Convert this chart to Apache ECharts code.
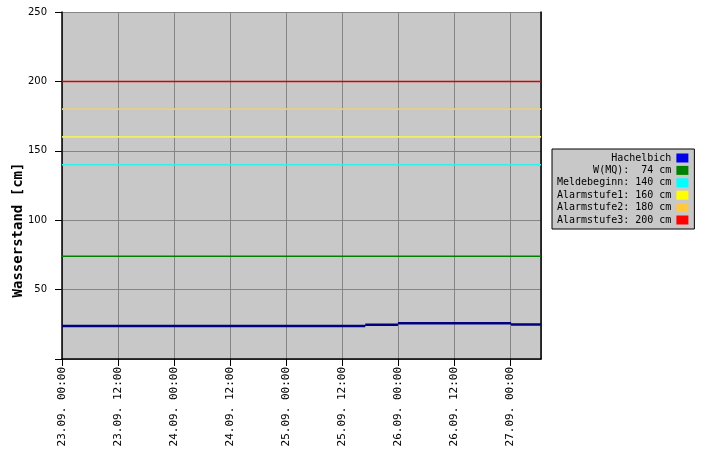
<!DOCTYPE html>
<html><head><meta charset="utf-8">
<script src="https://cdn.jsdelivr.net/npm/echarts@6/dist/echarts.min.js"></script>
<style>html,body{margin:0;padding:0;background:#fff}#c{width:727px;height:457px}</style>
</head><body><div id="c"></div>
<script>
// ---- data ----
var axisStart = '2023-09-23 00:00';
var axisEnd = '2023-09-27 06:40';
// water level: constant steps (start time, end time, level in cm)
var stepStarts = ['2023-09-23 00:00', '2023-09-25 17:00', '2023-09-26 00:00', '2023-09-27 00:15'];
var stepEnds = ['2023-09-25 17:00', '2023-09-26 00:00', '2023-09-27 00:15', '2023-09-27 06:40'];
var stepLevels = [23.8, 24.6, 25.8, 24.8];
var seriesNames = ['Hachelbich', 'W(MQ):  74 cm', 'Meldebeginn: 140 cm', 'Alarmstufe1: 160 cm', 'Alarmstufe2: 180 cm', 'Alarmstufe3: 200 cm'];
var thresholdValues = [74, 140, 160, 180, 200];
var yTicks = [50, 100, 150, 200, 250];

function parseT(s) {
  var p = s.split(/[- :]/).map(Number);
  return Date.UTC(p[0], p[1] - 1, p[2], p[3], p[4]);
}
function pad2(n) { return (n < 10 ? '0' : '') + n; }
var H12 = 12 * 3600 * 1000;
var tMin = parseT(axisStart), tMax = parseT(axisEnd);

var lineColors = ['#000080', '#008000', '#30f0f0', '#f0ee68', '#e8cf80', '#d80000'];
var legendColors = ['#0000e8', '#008000', '#00ffff', '#ffff00', '#ffc840', '#ff0000'];
var lineWidths = [2.5, 1.5, 1.5, 1.8, 1.8, 1.5];

var levelData = [];
stepLevels.forEach(function (v, i) {
  if (i > 0) levelData.push([parseT(stepStarts[i]), null]);
  levelData.push([parseT(stepStarts[i]), v]);
  levelData.push([parseT(stepEnds[i]), v]);
});

var series = [];
series.push({
  name: seriesNames[0], type: 'line', symbol: 'none', connectNulls: false,
  data: levelData,
  lineStyle: { color: lineColors[0], width: lineWidths[0] }, itemStyle: { color: legendColors[0] }, z: 5
});
thresholdValues.forEach(function (v, i) {
  series.push({
    name: seriesNames[i + 1], type: 'line', symbol: 'none',
    data: [[tMin, v], [tMax, v]],
    lineStyle: { color: lineColors[i + 1], width: lineWidths[i + 1] }, itemStyle: { color: legendColors[i + 1] }, z: 3
  });
});

var chart = echarts.init(document.getElementById('c'), null, { renderer: 'canvas' });
chart.setOption({
  animation: false,
  backgroundColor: '#ffffff',
  grid: { left: 62, top: 12, right: 186, bottom: 98, show: true, backgroundColor: '#c8c8c8', borderWidth: 0 },
  xAxis: {
    type: 'value', min: tMin, max: tMax, interval: H12,
    axisLine: { show: true, lineStyle: { color: '#000', width: 1.5 } },
    axisTick: { show: true, length: 7, lineStyle: { color: '#000' } },
    splitLine: { show: true, lineStyle: { color: '#858585', width: 1 } },
    axisLabel: {
      rotate: 90, margin: 8, color: '#000', fontFamily: 'DejaVu Sans Mono', fontSize: 11,
      showMaxLabel: false,
      formatter: function (v) {
        if ((v - tMin) % H12 !== 0) return '';
        var d = new Date(v);
        return pad2(d.getUTCDate()) + '.' + pad2(d.getUTCMonth() + 1) + '. ' + pad2(d.getUTCHours()) + ':' + pad2(d.getUTCMinutes());
      }
    }
  },
  yAxis: [{
    type: 'value', min: 0, max: 250, interval: 50,
    axisLine: { show: true, lineStyle: { color: '#000', width: 1.5 } },
    axisTick: { show: true, length: 7, lineStyle: { color: '#000' } },
    splitLine: { show: true, lineStyle: { color: '#858585', width: 1 } },
    axisLabel: {
      margin: 15, color: '#000', fontFamily: 'DejaVu Sans', fontSize: 10,
      formatter: function (v) { return yTicks.indexOf(v) >= 0 ? String(v) : ''; }
    }
  }, {
    type: 'value', min: 0, max: 250, interval: 50, position: 'right',
    axisLine: { show: true, lineStyle: { color: '#000', width: 1.5 } },
    axisTick: { show: false }, axisLabel: { show: false }, splitLine: { show: false }
  }],
  legend: {
    orient: 'vertical', left: 552, top: 149, align: 'right', icon: 'rect',
    itemWidth: 12, itemHeight: 9, itemGap: 0.4,
    padding: [3, 6, 3, 5],
    backgroundColor: '#c8c8c8', borderColor: '#000', borderWidth: 1,
    textStyle: { color: '#000', fontFamily: 'DejaVu Sans Mono', fontSize: 10, lineHeight: 12 },
    itemStyle: { borderWidth: 0 },
    data: seriesNames.map(function (n, i) { return { name: n, itemStyle: { color: legendColors[i], borderWidth: 0 } }; }),
    formatter: function (n) { var s = n; while (s.length < 19) s = ' ' + s; return s; }
  },
  graphic: [{
    type: 'text', x: 18, y: 230, rotation: Math.PI / 2,
    style: { text: 'Wasserstand [cm]', fill: '#000', font: 'bold 14px "DejaVu Sans Mono"', align: 'center', verticalAlign: 'middle' }
  }],
  series: series
});
</script>
</body></html>
